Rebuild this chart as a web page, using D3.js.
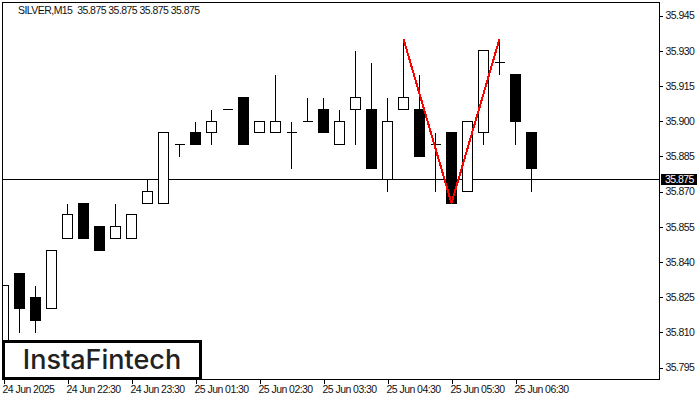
<!DOCTYPE html>
<html>

<head>
  <meta charset="UTF-8">
  <title>SILVER M15</title>
  <script src="https://d3js.org/d3.v7.min.js"></script>
  <style>
    body {
      margin: 0;
      background-color: white;
    }
    svg {
      display: block;
    }
    text {
      font-family: "Liberation Sans", sans-serif;
      font-size: 10.5px;
      letter-spacing: -0.55px;
      fill: #111;
    }
  </style>
</head>

<body>
  <svg></svg>
</body>

<script>
  let width = 700,
    height = 400;

  // 15 minute candles
  let opens = [35.805, 35.835, 35.825, 35.820, 35.850, 35.865, 35.855, 35.850, 35.850, 35.865, 35.865, 35.890,
    35.895, 35.895, 35.905, 35.910, 35.895, 35.895, 35.895, 35.900, 35.905, 35.890, 35.905, 35.905, 35.875,
    35.905, 35.905, 35.890, 35.895, 35.870, 35.895, 35.925, 35.920, 35.895];
  let highs = [35.830, 35.835, 35.830, 35.845, 35.865, 35.865, 35.855, 35.865, 35.860, 35.875, 35.895, 35.890,
    35.900, 35.905, 35.905, 35.910, 35.900, 35.920, 35.900, 35.910, 35.910, 35.905, 35.930, 35.925, 35.910,
    35.935, 35.920, 35.895, 35.895, 35.900, 35.930, 35.935, 35.920, 35.895];
  let lows = [35.790, 35.810, 35.810, 35.820, 35.850, 35.850, 35.845, 35.850, 35.850, 35.865, 35.865, 35.885,
    35.890, 35.890, 35.905, 35.890, 35.895, 35.895, 35.880, 35.900, 35.895, 35.890, 35.890, 35.880, 35.870,
    35.905, 35.885, 35.870, 35.865, 35.870, 35.890, 35.920, 35.890, 35.870];
  let closes = [35.830, 35.820, 35.815, 35.845, 35.860, 35.850, 35.845, 35.855, 35.860, 35.870, 35.895, 35.890,
    35.890, 35.900, 35.905, 35.890, 35.900, 35.900, 35.895, 35.900, 35.895, 35.900, 35.910, 35.880, 35.900,
    35.910, 35.885, 35.890, 35.865, 35.900, 35.930, 35.925, 35.900, 35.880];

  let yTicks = [35.945, 35.930, 35.915, 35.900, 35.885, 35.870, 35.855, 35.840, 35.825, 35.810, 35.795];
  let xTicks = [0, 4, 8, 12, 16, 20, 24, 28, 32];
  let xLabels = ["24 Jun 2025", "24 Jun 22:30", "24 Jun 23:30", "25 Jun 01:30", "25 Jun 02:30",
    "25 Jun 03:30", "25 Jun 04:30", "25 Jun 05:30", "25 Jun 06:30"];

  // double top pattern
  let patternIndex = [25, 28, 31];
  let patternPrice = [35.935, 35.865, 35.935];

  let lastPrice = 35.875;
  let title = "SILVER,M15  35.875 35.875 35.875 35.875";

  let plotLeft = 2.5, plotRight = 659.5, plotTop = 2.5, plotBottom = 379.5;

  let svg = d3.select("svg")
    .attr("width", width)
    .attr("height", height)
    .attr("viewBox", "0 0 " + width + " " + height);

  let x = d3.scaleLinear().domain([0, 33]).range([3.5, 531.5]);
  let y = d3.scaleLinear().domain([35.945, 35.795]).range([15.5, 367.5]);

  // snap to the pixel grid so the lines stay hard like the terminal draws them
  let py = v => Math.floor(y(v)) + 0.5;

  svg.append("clipPath").attr("id", "plot")
    .append("rect")
    .attr("x", plotLeft).attr("y", plotTop)
    .attr("width", plotRight - plotLeft).attr("height", plotBottom - plotTop);

  // axes
  let yAxis = svg.append("g")
    .attr("transform", "translate(" + plotRight + ",0)")
    .call(d3.axisRight(y).tickValues(yTicks).tickFormat(d3.format(".3f")).tickSize(3).tickPadding(3));

  let xAxis = svg.append("g")
    .attr("transform", "translate(0," + plotBottom + ")")
    .call(d3.axisBottom(x).tickValues(xTicks).tickFormat((d, i) => xLabels[i]).tickSize(4).tickPadding(2));

  yAxis.select(".domain").remove();
  xAxis.select(".domain").remove();
  yAxis.selectAll("line").attr("stroke", "black").attr("shape-rendering", "crispEdges");
  xAxis.selectAll("line").attr("stroke", "black").attr("shape-rendering", "crispEdges");
  yAxis.selectAll("text").attr("fill", "#111");
  xAxis.selectAll("text").attr("fill", "#111").attr("text-anchor", "start").attr("dx", -1.5);

  let plot = svg.append("g").attr("clip-path", "url(#plot)").attr("shape-rendering", "crispEdges");

  // last price line sits under the candles
  plot.append("line")
    .attr("x1", plotLeft).attr("x2", plotRight)
    .attr("y1", py(lastPrice)).attr("y2", py(lastPrice))
    .attr("stroke", "black");

  let candles = plot.selectAll("g.candle")
    .data(opens.map((o, i) => i))
    .enter()
    .append("g")
    .attr("class", "candle");

  candles.append("line")
    .attr("x1", i => x(i)).attr("x2", i => x(i))
    .attr("y1", i => py(highs[i])).attr("y2", i => py(lows[i]))
    .attr("stroke", "black");

  // a path and not a rect, a doji has no height and a rect would vanish
  candles.append("path")
    .attr("d", i => {
      let y0 = py(Math.max(opens[i], closes[i])),
        y1 = py(Math.min(opens[i], closes[i]));
      return "M" + (x(i) - 5) + "," + y0 + "H" + (x(i) + 5) + "V" + y1 + "H" + (x(i) - 5) + "Z";
    })
    .attr("fill", i => closes[i] < opens[i] ? "black" : "white")
    .attr("stroke", "black");

  // the pattern
  let line = d3.line().x(d => x(d[0])).y(d => y(d[1]));
  plot.append("path")
    .attr("d", line(patternIndex.map((d, i) => [d, patternPrice[i]])))
    .attr("fill", "none")
    .attr("stroke", "#ff0000")
    .attr("stroke-width", 2)
    .attr("stroke-linejoin", "bevel");

  // frame
  svg.append("rect")
    .attr("x", plotLeft).attr("y", plotTop)
    .attr("width", plotRight - plotLeft).attr("height", plotBottom - plotTop)
    .attr("fill", "none")
    .attr("stroke", "black")
    .attr("shape-rendering", "crispEdges");

  svg.append("text")
    .attr("x", 18).attr("y", 14)
    .attr("xml:space", "preserve")
    .style("white-space", "pre")
    .text(title);

  // last price tag
  svg.append("rect")
    .attr("x", 661).attr("y", py(lastPrice) - 5.5)
    .attr("width", 36).attr("height", 11)
    .attr("fill", "black");

  svg.append("text")
    .attr("x", 665).attr("y", py(lastPrice) + 3.5)
    .style("fill", "white")
    .text(d3.format(".3f")(lastPrice));

  // logo box
  svg.append("rect")
    .attr("x", 3.5).attr("y", 341.5)
    .attr("width", 197).attr("height", 37)
    .attr("fill", "white")
    .attr("stroke", "black")
    .attr("stroke-width", 3)
    .attr("shape-rendering", "crispEdges");

  svg.append("text")
    .attr("x", 102).attr("y", 369)
    .attr("text-anchor", "middle")
    .style("font-family", "Inter, sans-serif")
    .style("font-size", "27px")
    .style("font-weight", "500")
    .style("letter-spacing", "0")
    .style("fill", "#222")
    .text("InstaFintech");
</script>
</html>
